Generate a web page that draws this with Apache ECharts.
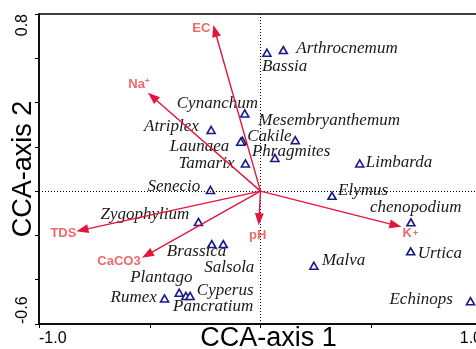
<!DOCTYPE html>
<html><head><meta charset="utf-8">
<script src="https://cdn.jsdelivr.net/npm/echarts@6/dist/echarts.min.js"></script>
<style>html,body{margin:0;padding:0;background:#fff}#c{width:476px;height:349px}</style>
</head><body><div id="c"></div>
<script>
// Species scores
const species = ['Arthrocnemum','Bassia','Cynanchum','Mesembryanthemum','Atriplex','Cakile','Launaea','Phragmites','Tamarix','Limbarda','Senecio','Elymus','Zygophylium','chenopodium','Brassica','Salsola','Urtica','Malva','Plantago','Rumex','Cyperus','Pancratium','Echinops'];
const speciesX = [0.103, 0.029, -0.071, -0.082, -0.223, 0.157, -0.089, 0.065, -0.068, 0.448, -0.226, 0.323, -0.280, 0.679, -0.220, -0.168, 0.678, 0.241, -0.367, -0.433, -0.337, -0.318, 0.948];
const speciesY = [0.637, 0.625, 0.351, 0.228, 0.276, 0.230, 0.223, 0.150, 0.125, 0.125, 0.005, -0.021, -0.139, -0.141, -0.239, -0.239, -0.272, -0.337, -0.459, -0.485, -0.473, -0.473, -0.497];
// Environmental variable vectors
const envNames = ['EC','Na+','TDS','CaCO3','pH','K+'];
const envX = [-0.213, -0.508, -0.831, -0.535, -0.008, 0.636];
const envY = [0.750, 0.444, -0.181, -0.301, -0.154, -0.161];
// Tick labels shown
const xTickLabels = [-1.0, 1.0];
const yTickLabels = [-0.6, 0.8];

// layout: label offsets (pixels) for species (left-anchored) and env labels (centered)
const speciesLabelOffset = [[13,-2],[-5,14],[-68,-10],[16,-20],[-67,-3],[-48,-4],[-71,5],[-23,-6],[-67,0],[6,-1],[-63,-4],[6,-5],[-98,-7],[-41,-15],[-45,7],[-19,23],[7,2],[8,-5],[-49,-15],[-54,-1],[11,-5],[-17,11],[-81,-2]];
const envLabelOffset = [[-12,3],[-9,-8],[-13,2],[-23,4],[-1,10],[9,7]];

const near = (v, arr) => arr.some(a => Math.abs(a - v) < 1e-6);
const envRich = n => n === 'Na+' ? '{a|Na}{s|+}' : n === 'K+' ? '{a|K}{p|+}' : '{a|' + n + '}';

const chart = echarts.init(document.getElementById('c'));
const axisFont = {fontFamily: 'Liberation Sans', fontSize: 16, color: '#000'};
chart.setOption({
  animation: false,
  grid: {left: 39, right: -6, top: 14, bottom: 25, show: true, borderColor: '#000', borderWidth: 1.5,
    containLabel: false, outerBoundsMode: 'none'},
  xAxis: {
    type: 'value', min: -1, max: 1, interval: 0.5,
    name: 'CCA-axis 1', nameLocation: 'middle', nameGap: 1, nameMoveOverlap: false,
    nameTextStyle: {fontFamily: 'Liberation Sans', fontSize: 27, color: '#000', padding: [0,0,0,16]},
    axisLine: {onZero: false, lineStyle: {color: '#000', width: 1.5}},
    axisTick: {length: 4, lineStyle: {color: '#000'}},
    splitLine: {show: false},
    axisLabel: Object.assign({margin: 7, alignMinLabel: 'left', alignMaxLabel: 'right',
      formatter: v => near(v, xTickLabels) ? v.toFixed(1) : ''}, axisFont)
  },
  yAxis: {
    type: 'value', min: -0.6, max: 0.8, interval: 0.2,
    name: 'CCA-axis 2', nameLocation: 'middle', nameGap: 2, nameRotate: 90, nameMoveOverlap: false,
    nameTextStyle: {fontFamily: 'Liberation Sans', fontSize: 27, color: '#000'},
    axisLine: {onZero: false, lineStyle: {color: '#000', width: 1.5}},
    axisTick: {length: 4, lineStyle: {color: '#000'}},
    splitLine: {show: false},
    axisLabel: Object.assign({margin: 8, rotate: 90, alignMinLabel: 'left', alignMaxLabel: 'right',
      formatter: v => near(v, yTickLabels) ? v.toFixed(1) : ''}, axisFont)
  },
  series: [
    {
      type: 'scatter', z: 2,
      symbol: 'triangle', symbolSize: [8, 7],
      itemStyle: {color: '#fff', borderColor: '#1a1a8a', borderWidth: 1.6, opacity: 1},
      data: species.map((n, i) => ({name: n, value: [speciesX[i], speciesY[i]],
        label: {offset: speciesLabelOffset[i]}})),
      label: {show: true, position: 'inside', align: 'left', verticalAlign: 'middle',
        formatter: p => p.name, fontFamily: 'Liberation Serif', fontStyle: 'italic', fontSize: 17, color: '#1a1a1a'},
      markLine: {
        silent: true, symbol: 'none', label: {show: false},
        lineStyle: {color: '#000', type: [1, 2], width: 1},
        data: [{xAxis: 0}, {yAxis: 0}]
      }
    },
    {
      type: 'custom', z: 5,
      data: envNames.map((n, i) => [envX[i], envY[i]]),
      renderItem: (params, api) => {
        const o = api.coord([0, 0]);
        const t = api.coord([api.value(0), api.value(1)]);
        const dx = t[0] - o[0], dy = t[1] - o[1];
        const L = Math.sqrt(dx*dx + dy*dy), ux = dx/L, uy = dy/L;
        const hl = 12, hw = 4.5;
        const b = [t[0] - ux*hl, t[1] - uy*hl];
        return {type: 'group', children: [
          {type: 'line', shape: {x1: o[0], y1: o[1], x2: b[0] + ux*2, y2: b[1] + uy*2},
            style: {stroke: '#e3163d', lineWidth: 1.4}},
          {type: 'polygon', shape: {points: [t, [b[0] - uy*hw, b[1] + ux*hw], [b[0] + uy*hw, b[1] - ux*hw]]},
            style: {fill: '#e3163d'}}
        ]};
      }
    },
    {
      type: 'scatter', z: 6, symbolSize: 0,
      data: envNames.map((n, i) => ({name: n, value: [envX[i], envY[i]], label: {offset: envLabelOffset[i]}})),
      label: {show: true, position: 'inside', align: 'center', verticalAlign: 'middle',
        formatter: p => envRich(p.name),
        rich: {
          a: {fontFamily: 'Liberation Sans', fontWeight: 'bold', fontSize: 13, color: '#ea4343'},
          s: {fontFamily: 'Liberation Sans', fontWeight: 'bold', fontSize: 8, color: '#ea4343', padding: [0,0,9,0]},
          p: {fontFamily: 'Liberation Sans', fontWeight: 'bold', fontSize: 9, color: '#ea4343', padding: [0,0,0,1]}
        }}
    }
  ]
});
</script></body></html>
